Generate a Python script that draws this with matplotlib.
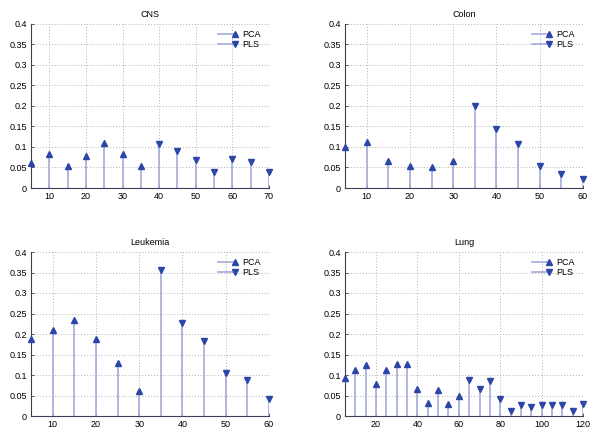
import matplotlib
matplotlib.use("Agg")
import matplotlib.pyplot as plt
from matplotlib.lines import Line2D
from matplotlib.legend_handler import HandlerBase

plt.rcParams['font.family'] = ['Liberation Sans', 'DejaVu Sans']

titles = ["CNS", "Colon", "Leukemia", "Lung"]

cns_x = [5, 10, 15, 20, 25, 30, 35, 40, 45, 50, 55, 60, 65, 70]
cns_y = [0.061, 0.083, 0.053, 0.079, 0.110, 0.084, 0.053, 0.107, 0.091, 0.068, 0.040, 0.070, 0.063, 0.040]
cns_m = ["PCA"] * 7 + ["PLS"] * 7

colon_x = [5, 10, 15, 20, 25, 30, 35, 40, 45, 50, 55, 60]
colon_y = [0.101, 0.113, 0.065, 0.053, 0.050, 0.065, 0.200, 0.143, 0.107, 0.053, 0.034, 0.021]
colon_m = ["PCA"] * 6 + ["PLS"] * 6

leuk_x = [5, 10, 15, 20, 25, 30, 35, 40, 45, 50, 55, 60]
leuk_y = [0.188, 0.210, 0.233, 0.187, 0.129, 0.060, 0.356, 0.228, 0.182, 0.104, 0.087, 0.042]
leuk_m = ["PCA"] * 6 + ["PLS"] * 6

lung_x = [5, 10, 15, 20, 25, 30, 35, 40, 45, 50, 55, 60,
          65, 70, 75, 80, 85, 90, 95, 100, 105, 110, 115, 120]
lung_y = [0.092, 0.113, 0.124, 0.079, 0.113, 0.128, 0.127, 0.067, 0.031, 0.063, 0.030, 0.049,
          0.089, 0.067, 0.085, 0.042, 0.013, 0.028, 0.023, 0.027, 0.027, 0.027, 0.013, 0.030]
lung_m = ["PCA"] * 12 + ["PLS"] * 12

datasets = [(cns_x, cns_y, cns_m, 70, [10, 20, 30, 40, 50, 60, 70]),
            (colon_x, colon_y, colon_m, 60, [10, 20, 30, 40, 50, 60]),
            (leuk_x, leuk_y, leuk_m, 60, [10, 20, 30, 40, 50, 60]),
            (lung_x, lung_y, lung_m, 120, [20, 40, 60, 80, 100, 120])]

y_ticks = [0, 0.05, 0.1, 0.15, 0.2, 0.25, 0.3, 0.35, 0.4]
y_labels = ["0", "0.05", "0.1", "0.15", "0.2", "0.25", "0.3", "0.35", "0.4"]

STEM = "#a4aadb"
MARK = "#2b46a8"
AX = "#3a3f55"


class StemHandler(HandlerBase):
    def __init__(self, marker):
        super().__init__()
        self.marker = marker

    def create_artists(self, legend, orig_handle, xdescent, ydescent, width, height, fontsize, trans):
        y = height / 2 - ydescent
        ln = Line2D([-xdescent, width - xdescent], [y, y], color=STEM, lw=1.2, transform=trans)
        mk = Line2D([width - xdescent], [y], marker=self.marker, color=MARK, ms=5,
                    linestyle='none', transform=trans)
        return [ln, mk]


fig = plt.figure(figsize=(6, 4.4), dpi=100)
positions = [(31, 24), (345, 24), (31, 252), (345, 252)]
W, H = 238, 164

for (px, py), title, (xs, ys, ms, xmax, xt) in zip(positions, titles, datasets):
    ax = fig.add_axes([px / 600, (440 - py - H) / 440, W / 600, H / 440])
    for x, y, m in zip(xs, ys, ms):
        ax.vlines(x, 0, y, color=STEM, lw=1.2, zorder=2)
        ax.plot([x], [y], marker='^' if m == "PCA" else 'v', color=MARK, ms=5,
                linestyle='none', zorder=3, clip_on=False)
    ax.set_xlim(5, xmax)
    ax.set_ylim(0, 0.4)
    ax.set_xticks(xt)
    ax.set_yticks(y_ticks)
    ax.set_yticklabels(y_labels)
    ax.grid(True, linestyle=(0, (1, 2)), color="#b0b0b0", lw=0.7, zorder=0)
    ax.spines['top'].set_visible(False)
    ax.spines['right'].set_visible(False)
    for s in ('left', 'bottom'):
        ax.spines[s].set_color(AX)
        ax.spines[s].set_linewidth(0.8)
    ax.tick_params(direction='in', length=2, width=0.6, color=AX, labelsize=6.5, pad=3)
    ax.set_title(title, fontsize=6.5, pad=5)
    h1 = Line2D([], [], color=STEM)
    h2 = Line2D([], [], color=STEM)
    ax.legend([h1, h2], ["PCA", "PLS"], loc='upper right', frameon=False, fontsize=6.5,
              handler_map={h1: StemHandler('^'), h2: StemHandler('v')},
              handlelength=1.9, handletextpad=0.8, labelspacing=0.15,
              bbox_to_anchor=(1.0, 1.015))

fig.savefig("out.png", dpi=100)
